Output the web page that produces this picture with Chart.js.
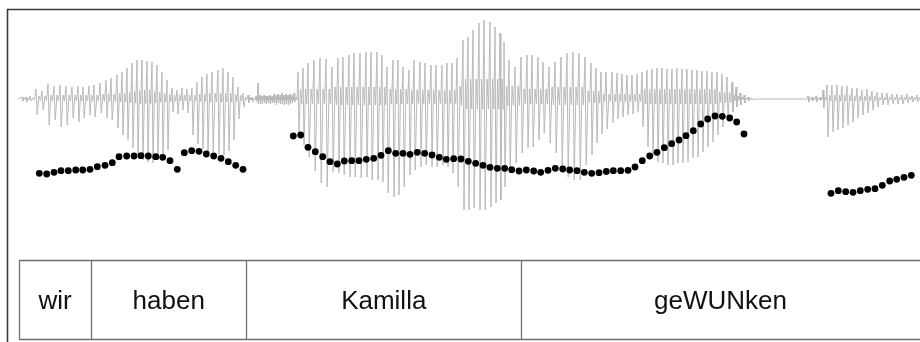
<!DOCTYPE html>
<html>
<head>
<meta charset="utf-8">
<script src="https://cdn.jsdelivr.net/npm/chart.js@4/dist/chart.umd.min.js"></script>
<style>
  html, body { margin: 0; padding: 0; background: #fff; }
  #wrap { width: 920px; height: 342px; }
</style>
</head>
<body>
<div id="wrap"><canvas id="c" width="920" height="342"></canvas></div>
<script>
// Oscillogram: one entry per glottal pulse / cycle.
// time (ms), positive peak, negative peak, amplitude of the ripple between peaks
const waveT = [
  22, 26, 30, 36, 42, 48, 54, 60, 66, 72, 78, 83, 89, 94, 100, 106, 111, 117, 122, 127,
  132, 137, 142, 147, 152, 157, 162, 167, 172, 177, 182, 187, 192, 197, 202, 207, 212, 218, 223, 228,
  233, 238, 243, 248, 252,
  256, 258, 260, 262, 264, 266, 268, 270, 272, 274, 276, 278, 280, 282, 284, 286, 288, 290, 292, 294,
  298, 303, 308, 314, 320, 326, 332, 338, 343, 349, 354, 360, 366, 371, 377, 382, 387, 393, 398, 403,
  409, 414, 420, 425, 431, 436, 442, 447, 452, 457, 463, 468, 473, 479, 484, 490, 495, 500, 504, 509,
  515, 521, 527, 532, 538, 543, 549, 555, 561, 567, 573, 579, 585, 591, 596, 601, 606, 612, 617, 622,
  627, 632, 637, 642, 647, 652, 657, 662, 667, 672, 677, 682, 687, 692, 697, 702, 707, 712, 717, 722,
  727, 732, 736, 740, 744, 748, 752,
  804, 808, 812, 816, 820, 823, 827, 832, 837, 842, 847, 852, 857, 862, 867, 872, 877, 882, 887, 892,
  897, 902, 907, 912, 917
];
const waveHi = [
  2, 2, 3, 10, 8, 15, 13, 14, 13, 12, 13, 12, 13, 14, 16, 19, 21, 24, 27, 31,
  36, 39, 39, 38, 37, 34, 27, 19, 11, 9, 11, 10, 11, 17, 22, 25, 27, 29, 31, 27,
  22, 12, 6, 4, 2,
  3, 16, 4, 3, 4, 3, 3, 4, 3, 5, 4, 5, 4, 6, 4, 5, 4, 5, 4, 6,
  27, 31, 36, 39, 41, 40, 32, 41, 42, 44, 46, 46, 47, 47, 47, 44, 32, 39, 39, 32,
  29, 39, 37, 36, 34, 34, 34, 36, 36, 41, 59, 62, 69, 76, 79, 77, 72, 66, 57, 39,
  32, 42, 44, 44, 42, 37, 32, 37, 42, 46, 47, 46, 42, 36, 31, 27, 27, 27, 26, 25,
  24, 24, 25, 27, 29, 30, 31, 31, 30, 30, 31, 30, 30, 29, 29, 28, 28, 27, 27, 25,
  22, 17, 12, 6, 4, 2, 1,
  0, 3, 2, 3, 2, 9, 14, 14, 14, 13, 13, 11, 11, 9, 10, 8, 7, 6, 6, 5,
  5, 4, 5, 3, 4
];
const waveLo = [
  -2, -3, -2, -16, -11, -26, -21, -28, -26, -19, -23, -19, -16, -18, -14, -19, -21, -29, -36, -41,
  -49, -56, -61, -63, -64, -61, -58, -51, -13, -15, -11, -14, -36, -45, -50, -52, -53, -55, -56, -52,
  -41, -20, -8, -4, -3,
  -3, -5, -5, -5, -4, -5, -4, -5, -4, -4, -6, -4, -5, -5, -6, -5, -6, -5, -4, -3,
  -33, -46, -58, -72, -84, -88, -73, -74, -76, -78, -78, -79, -78, -81, -81, -83, -94, -98, -96, -88,
  -76, -71, -68, -66, -68, -68, -66, -68, -74, -88, -111, -111, -109, -111, -111, -108, -104, -101, -88, -74,
  -64, -54, -49, -48, -41, -34, -44, -54, -69, -78, -81, -81, -66, -56, -44, -35, -30, -24, -20, -18,
  -16, -15, -13, -28, -48, -58, -63, -64, -66, -66, -64, -64, -63, -59, -58, -53, -48, -43, -36, -28,
  -20, -13, -8, -6, -4, -2, -1,
  0, -3, -2, -3, -2, -9, -38, -33, -31, -29, -26, -23, -19, -16, -14, -11, -8, -6, -6, -5,
  -5, -5, -4, -3, -3
];
const waveCore = [
  1, 1, 1, 3, 3, 4, 4, 4, 4, 4, 4, 4, 4, 4, 5, 5, 5, 6, 6, 7,
  8, 9, 9, 9, 8, 7, 6, 5, 4, 4, 4, 4, 4, 5, 5, 6, 6, 6, 6, 6,
  5, 4, 2, 2, 1,
  2, 2, 2, 2, 2, 2, 2, 2, 2, 2, 2, 2, 2, 2, 2, 2, 2, 2, 2, 2,
  10, 10, 10, 10, 10, 10, 12, 12, 12, 12, 12, 12, 12, 12, 12, 12, 10, 10, 10, 10,
  9, 9, 9, 9, 9, 9, 9, 9, 9, 13, 20, 20, 20, 20, 20, 20, 20, 20, 13, 13,
  13, 10, 10, 10, 10, 10, 12, 12, 12, 12, 12, 12, 8, 8, 8, 5, 5, 5, 5, 5,
  5, 5, 5, 10, 10, 10, 10, 10, 10, 10, 10, 10, 10, 10, 10, 10, 10, 10, 7, 7,
  7, 4, 3, 2, 1, 1, 0,
  0, 1, 1, 1, 1, 2, 4, 4, 4, 4, 4, 3, 3, 3, 3, 3, 2, 2, 2, 2,
  2, 2, 2, 2, 2
];

// F0 track: time (ms) and pitch (Hz)
const pitchT = [
  39.3, 46.7, 54, 61, 68.3, 75.7, 82.7, 90, 97.3, 105, 112.3, 119, 126.7, 134, 141, 148.3, 155.7, 162.7, 170, 177.3,
  184.3, 191.7, 199, 206.3, 213.7, 221, 228.3, 235.7, 243,
  293.3, 300.7, 308, 315.3, 322.7, 330, 337.3, 344.3, 351.7, 359, 366.3, 373.7, 381, 388.3, 395.7, 403, 410, 417.3, 424.7, 432,
  439.3, 446.3, 453.7, 461, 468.3, 475.7, 483, 490, 497.3, 504.7, 511.7, 519, 526.3, 533.7, 540.7, 548, 555.3, 562.7, 569.7, 577,
  584.3, 591.7, 599, 606.3, 613.3, 620.7, 628, 635, 642.3, 649.7, 657, 664.3, 671.7, 679, 686, 693.3, 700.7, 707.7, 715, 722.3,
  729.7, 736.7, 744,
  831, 838.3, 845.7, 853, 860.3, 867.7, 875, 882.3, 889.7, 896.7, 904, 911.3
];
const pitchHz = [
  208.7, 208, 209.7, 211.3, 211.3, 212, 212, 212.7, 215.3, 216.7, 219.3, 225.3, 226, 226, 226.3, 226, 225.3, 224.7, 221.3, 212.7,
  229.3, 231.3, 230.7, 228, 226, 223.7, 220.3, 216.7, 212.7,
  246, 247, 234.7, 230.3, 225.3, 220.3, 218, 221, 221.3, 221.3, 222.7, 223.7, 226.7, 231.3, 228.7, 228.7, 227.7, 229.7, 228.7, 227,
  224.7, 222.7, 223.3, 223, 220.7, 218.7, 216.7, 214.7, 213.7, 213.7, 212.3, 211, 212, 211, 209.7, 211.7, 213.7, 213, 212, 211.3,
  209.7, 208.7, 209.3, 210.5, 211.3, 211.3, 211.7, 215, 221.3, 226, 229.7, 234.3, 238.3, 242, 246.3, 251.3, 258, 263, 266, 265.7,
  264, 260, 248,
  188.7, 191.3, 190.3, 189.7, 191.3, 192.7, 193.3, 196.7, 201, 202.7, 204.7, 206.7
];

// Word tier: labels and interval boundaries (ms)
const wordLabels = ['wir', 'haben', 'Kamilla', 'geWUNken'];
const wordBounds = [19, 91, 246.5, 521, 920];

// Expand each pulse into a peak, a trough and the small ripple that follows.
const wavePoints = [{ x: 18, y: 0 }];
for (let i = 0; i < waveT.length; i++) {
  const t = waveT[i];
  const d = i + 1 < waveT.length ? Math.min(waveT[i + 1] - t, 6) : 5;
  wavePoints.push({ x: t, y: waveHi[i] });
  wavePoints.push({ x: t + 0.2 * d, y: waveLo[i] });
  wavePoints.push({ x: t + 0.5 * d, y: waveCore[i] });
  wavePoints.push({ x: t + 0.75 * d, y: -waveCore[i] * 0.5 });
}
wavePoints.push({ x: 920, y: 0 });

const pitchPoints = pitchT.map((t, i) => ({ x: t, y: pitchHz[i] }));

// Frame around the display and the annotated word tier below it.
const tierPlugin = {
  id: 'tier',
  afterDraw(chart) {
    const ctx = chart.ctx;
    const xs = chart.scales.x;
    ctx.save();
    // frame
    ctx.strokeStyle = '#3a3a3a';
    ctx.lineWidth = 1.6;
    ctx.beginPath();
    ctx.moveTo(7.5, 342);
    ctx.lineTo(7.5, 9.5);
    ctx.lineTo(920, 9.5);
    ctx.stroke();

    // tier box
    const top = 260.5, bottom = 339.5;
    ctx.strokeStyle = '#6e6e6e';
    ctx.lineWidth = 1.3;
    const xl = xs.getPixelForValue(wordBounds[0]);
    const xr = xs.getPixelForValue(wordBounds[wordBounds.length - 1]);
    ctx.beginPath();
    ctx.moveTo(xl, top); ctx.lineTo(xr, top);
    ctx.moveTo(xl, bottom); ctx.lineTo(xr, bottom);
    for (let i = 0; i < wordBounds.length - 1; i++) {
      const bx = Math.round(xs.getPixelForValue(wordBounds[i])) + 0.5;
      ctx.moveTo(bx, top); ctx.lineTo(bx, bottom);
    }
    ctx.stroke();

    ctx.fillStyle = '#111';
    ctx.font = '26px "Liberation Sans", Arial, sans-serif';
    ctx.textAlign = 'center';
    ctx.textBaseline = 'alphabetic';
    wordLabels.forEach((w, i) => {
      const cx = (xs.getPixelForValue(wordBounds[i]) + xs.getPixelForValue(wordBounds[i + 1])) / 2;
      ctx.fillText(w, cx, 309.3);
    });
    ctx.restore();
  }
};

new Chart(document.getElementById('c'), {
  type: 'scatter',
  data: {
    datasets: [
      {
        label: 'F0',
        data: pitchPoints,
        yAxisID: 'f0',
        pointRadius: 3.4,
        pointBackgroundColor: '#000',
        pointBorderWidth: 0,
        showLine: false,
        order: 1
      },
      {
        label: 'Oscillogram',
        data: wavePoints,
        yAxisID: 'amp',
        showLine: true,
        borderColor: '#b9b9b9',
        borderWidth: 1,
        pointRadius: 0,
        tension: 0,
        order: 2
      }
    ]
  },
  options: {
    responsive: false,
    animation: false,
    devicePixelRatio: 1,
    layout: { padding: 0, autoPadding: false },
    plugins: { legend: { display: false }, tooltip: { enabled: false } },
    events: [],
    scales: {
      x: { type: 'linear', min: 0, max: 920, display: false },
      amp: { type: 'linear', position: 'left', min: -243, max: 99, display: false },
      f0: { type: 'linear', position: 'right', min: 40, max: 382, display: false }
    }
  },
  plugins: [tierPlugin]
});
</script>
</body>
</html>
